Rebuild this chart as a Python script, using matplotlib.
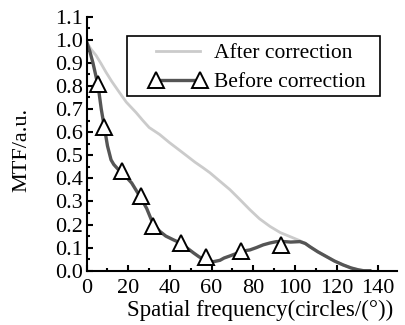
import matplotlib
matplotlib.use('Agg')
import matplotlib.pyplot as plt
from matplotlib.ticker import MultipleLocator, FormatStrFormatter
from matplotlib.patches import Rectangle

plt.rcParams['font.family'] = ['Liberation Serif', 'DejaVu Serif']

# before correction (dark curve)
x_before = [0, 1.5, 3, 4.5, 5.5, 7, 8.5, 10, 11.7, 13, 15, 17, 21.6, 26, 28.8, 32,
            35.2, 38, 41.6, 45, 48, 51.2, 54, 57, 60.8, 64, 66, 68.8, 72, 75, 78.4,
            81.5, 84.8, 88, 91.2, 95, 98, 102.4, 105, 107.2, 111, 115.2, 119, 123.2,
            127, 130.4, 133, 136]
y_before = [0.99, 0.95, 0.90, 0.84, 0.80, 0.70, 0.62, 0.54, 0.48, 0.46, 0.44, 0.425,
            0.38, 0.315, 0.27, 0.20, 0.17, 0.15, 0.134, 0.12, 0.10, 0.078, 0.06, 0.046,
            0.039, 0.045, 0.055, 0.064, 0.075, 0.085, 0.09, 0.10, 0.112, 0.12, 0.126,
            0.126, 0.124, 0.126, 0.118, 0.104, 0.082, 0.061, 0.042, 0.025, 0.012,
            0.004, 0.0, 0.0]

# marker positions on the dark curve
x_marks = [5.3, 8.5, 16.8, 25.9, 32, 45.3, 57.1, 74.2, 93.1]
y_marks = [0.81, 0.62, 0.431, 0.322, 0.192, 0.122, 0.058, 0.086, 0.112]

# after correction (light curve)
x_after = [0, 2, 4.5, 7, 9.3, 12, 15.7, 19, 23.7, 27, 30, 35, 39.7, 44.8, 47.7, 52,
           56, 59.2, 63, 68.8, 73.6, 78.4, 83, 88, 93, 97.6, 102.4, 105, 107.2, 111,
           115.2, 119, 123.2, 127, 130.4, 133]
y_after = [0.99, 0.96, 0.932, 0.895, 0.859, 0.82, 0.772, 0.73, 0.685, 0.65, 0.62,
           0.59, 0.555, 0.52, 0.50, 0.47, 0.445, 0.424, 0.395, 0.351, 0.308, 0.264,
           0.225, 0.192, 0.165, 0.148, 0.13, 0.118, 0.104, 0.082, 0.061, 0.042, 0.025,
           0.012, 0.004, 0.0]

fig = plt.figure(figsize=(4.05, 3.25), dpi=100)
ax = fig.add_axes([0.214, 0.167, 0.766, 0.782])

ax.plot(x_after, y_after, color='#cbcbcb', lw=2.0, label='After correction')
ax.plot(x_before, y_before, color='#555555', lw=2.4)
ax.plot(x_marks, y_marks, ls='none', marker='^', ms=11, mfc='white', mec='black', mew=1.4)

# legend handle for the dark curve with two triangles
ax.plot([], [], color='#555555', lw=2.4, marker='^', ms=11,
        mfc='white', mec='black', mew=1.4, label='Before correction')

# legend box drawn separately (wider padding than the legend frame allows)
box = Rectangle((127 / 405, 1 - 96 / 325), 253 / 405, 60 / 325, transform=fig.transFigure,
                facecolor='white', edgecolor='black', lw=1.2, zorder=4, clip_on=False)
ax.add_patch(box)

leg = ax.legend(loc='upper left', bbox_to_anchor=(150 / 405, 1 - 43 / 325),
                bbox_transform=fig.transFigure, borderaxespad=0, borderpad=0,
                fontsize=15.5, numpoints=2, handlelength=2.6, handletextpad=0.35,
                labelspacing=0.42, frameon=False)
leg.set_zorder(5)

ax.set_xlim(0, 149)
ax.set_ylim(0, 1.1)
ax.xaxis.set_major_locator(MultipleLocator(20))
ax.xaxis.set_minor_locator(MultipleLocator(10))
ax.yaxis.set_major_locator(MultipleLocator(0.1))
ax.yaxis.set_minor_locator(MultipleLocator(0.05))
ax.yaxis.set_major_formatter(FormatStrFormatter('%.1f'))

for s in ['top', 'right']:
    ax.spines[s].set_visible(False)
for s in ['left', 'bottom']:
    ax.spines[s].set_linewidth(1.5)

ax.tick_params(which='major', direction='in', length=4, width=1.5, labelsize=16, pad=3)
ax.tick_params(which='minor', direction='in', length=2.5, width=1.5)
ax.tick_params(axis='x', which='major', pad=6)

ax.set_xlabel('Spatial frequency(circles/(°))', fontsize=16.5)
ax.set_ylabel('MTF/a.u.', fontsize=16)
ax.xaxis.set_label_coords(0.558, -0.115)
ax.yaxis.set_label_coords(-0.177, 0.476)

fig.savefig('out.png', dpi=100)
